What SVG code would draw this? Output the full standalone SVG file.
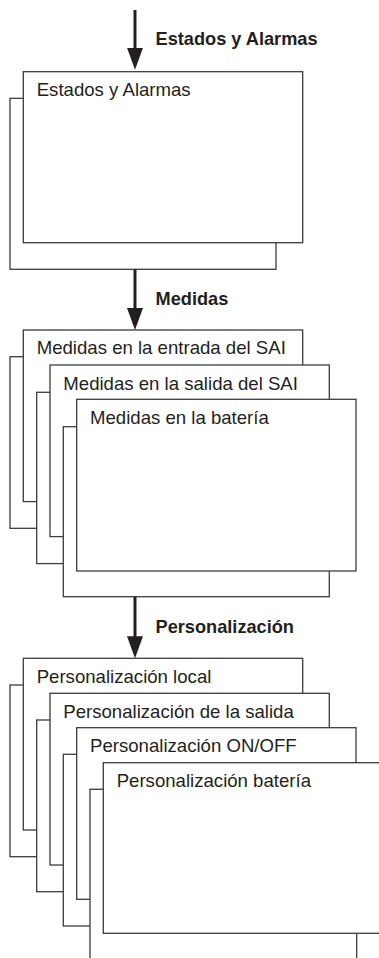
<svg xmlns="http://www.w3.org/2000/svg" width="379" height="958" viewBox="0 0 379 958">
<style>
.bk{fill:#fff;stroke:#3c3c3c;stroke-width:1.3}
.fr{fill:#fff;stroke:#3c3c3c;stroke-width:1.3}
.t{font-family:"Liberation Sans",Arial,sans-serif;font-size:18.6px;fill:#231f20}
.lb{font-family:"Liberation Sans",Arial,sans-serif;font-size:18.2px;font-weight:bold;fill:#231f20}
.ar{stroke:#231f20;stroke-width:3;fill:none}
</style>
<defs>
<marker id="ah" markerUnits="userSpaceOnUse" viewBox="0 0 22 16" markerWidth="22" markerHeight="16" refX="2" refY="8" orient="auto">
<path d="M0,0 L22,8 L0,16 z" fill="#231f20"/>
</marker>
</defs>
<rect width="379" height="958" fill="#fff"/>

<g id="estados">
<rect class="bk" x="10" y="98.3" width="266" height="171"/>
<rect class="fr" x="23.3" y="71.7" width="279.4" height="171"/>
<text class="t" x="36.7" y="96">Estados y Alarmas</text>
</g>

<g id="medidas-entrada">
<rect class="bk" x="10" y="356.7" width="266" height="171.6"/>
<rect class="fr" x="23.3" y="330" width="279.4" height="171.6"/>
<text class="t" x="36.7" y="354">Medidas en la entrada del SAI</text>
</g>
<g id="medidas-salida">
<rect class="bk" x="36.7" y="392.3" width="266" height="171.3"/>
<rect class="fr" x="50" y="365" width="279.3" height="171.6"/>
<text class="t" x="63.3" y="389.5">Medidas en la salida del SAI</text>
</g>
<g id="medidas-bateria">
<rect class="bk" x="63.3" y="426.7" width="266" height="170"/>
<rect class="fr" x="76.7" y="399.3" width="279.3" height="171.7"/>
<text class="t" x="90" y="424">Medidas en la batería</text>
</g>

<g id="pers-local">
<rect class="bk" x="10" y="685" width="266" height="171.7"/>
<rect class="fr" x="23.3" y="658.3" width="279.4" height="171.7"/>
<text class="t" x="36.7" y="683.3">Personalización local</text>
</g>
<g id="pers-salida">
<rect class="bk" x="36.7" y="720" width="266" height="171.7"/>
<rect class="fr" x="50" y="693.3" width="279.3" height="171.7"/>
<text class="t" x="63.3" y="717.5">Personalización de la salida</text>
</g>
<g id="pers-onoff">
<rect class="bk" x="63.3" y="754.3" width="266" height="171.7"/>
<rect class="fr" x="76.7" y="727.7" width="279.3" height="171.6"/>
<text class="t" x="90" y="752.3">Personalización ON/OFF</text>
</g>
<g id="pers-bateria">
<rect class="bk" x="90" y="789.3" width="266.7" height="171.7"/>
<rect class="fr" x="103.3" y="762.7" width="279.4" height="170.6"/>
<text class="t" x="116.7" y="786.7">Personalización batería</text>
</g>

<g id="connectors">
<line class="ar" x1="135" y1="10" x2="135" y2="49.7" marker-end="url(#ah)"/>
<text class="lb" x="155.5" y="45">Estados y Alarmas</text>
<line class="ar" x1="135" y1="269.3" x2="135" y2="310" marker-end="url(#ah)"/>
<text class="lb" x="155.5" y="305">Medidas</text>
<line class="ar" x1="135" y1="596.7" x2="135" y2="638.3" marker-end="url(#ah)"/>
<text class="lb" x="155.5" y="633.3">Personalización</text>
</g>
</svg>
